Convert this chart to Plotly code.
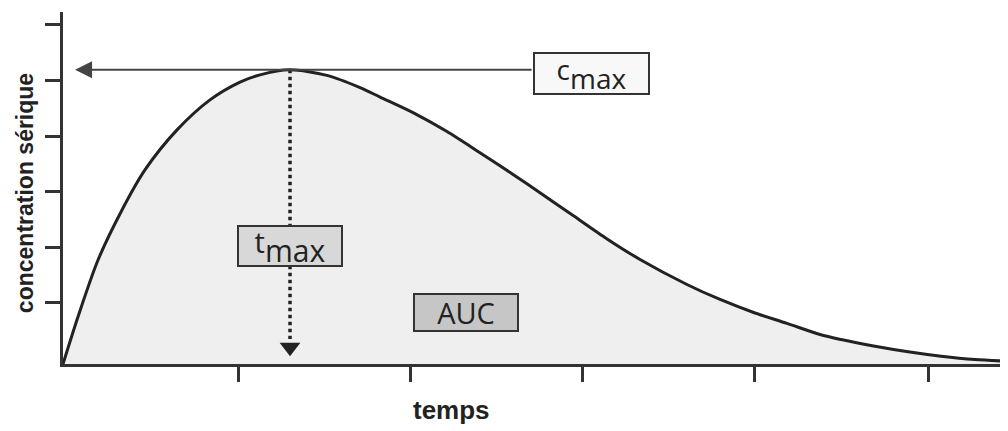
import plotly.graph_objects as go

# ---- data ----
time = [0, 0.087, 0.203, 0.342, 0.475, 0.661, 0.852, 1.026, 1.142, 1.316,
        1.530, 1.722, 1.838, 2.029, 2.226, 2.417, 2.609, 2.765, 2.957, 3.154,
        3.345, 3.617, 3.809, 4.0, 4.197, 4.388, 4.51, 4.707, 4.899, 5.09,
        5.287, 5.478]
conc = [0, 0.85, 1.87, 2.77, 3.49, 4.21, 4.75, 5.07, 5.20, 5.29,
        5.19, 4.97, 4.80, 4.52, 4.18, 3.80, 3.41, 3.08, 2.67, 2.25,
        1.88, 1.43, 1.16, 0.93, 0.73, 0.53, 0.44, 0.32, 0.22, 0.14,
        0.08, 0.05]
x_ticks = [1.015, 2.015, 3.01, 4.01, 5.015]
y_ticks = [1.1, 2.1, 3.1, 4.1, 5.1, 6.1]
x_title = "temps"
y_title = "concentration sérique"
lbl_cmax = ("c", "max")
lbl_tmax = ("t", "max")
lbl_auc = "AUC"

# derived peak
i_max = conc.index(max(conc))
t_max = time[i_max]
c_max = conc[i_max]

AX = "#333333"
INK = "#222222"
LABEL_FONT = "Open Sans"

fig = go.Figure()

# area under curve + curve
fig.add_trace(go.Scatter(
    x=time, y=conc, mode="lines",
    line=dict(color=INK, width=3, shape="spline", smoothing=0.8),
    fill="tozeroy", fillcolor="#efefef", hoverinfo="skip", showlegend=False,
))

# dotted tmax drop line with arrow head
fig.add_trace(go.Scatter(
    x=[t_max, t_max], y=[c_max, 0.45], mode="lines",
    line=dict(color=INK, width=3.5, dash="dot"), hoverinfo="skip", showlegend=False,
))
fig.add_trace(go.Scatter(
    x=[t_max], y=[0.3], mode="markers",
    marker=dict(symbol="triangle-down", size=18, color=INK),
    hoverinfo="skip", showlegend=False,
))


def sub_label(pair, main_px=28, sub_px=29):
    # subscript drawn nearly as large as the main letter, as in the reference
    base = round(sub_px / 0.7)
    return ("<span style='font-size:%dpx'>%s</span><sub>%s</sub>" % (main_px, pair[0], pair[1]), base)


cm_txt, cm_size = sub_label(lbl_cmax, 28, 28)
tm_txt, tm_size = sub_label(lbl_tmax, 29, 30)

annotations = [
    # Cmax arrow (horizontal line pointing to the y axis)
    dict(x=0.07, y=c_max, ax=2.725, ay=c_max, xref="x", yref="y", axref="x", ayref="y",
         text="", showarrow=True, arrowhead=2, arrowsize=1.7, arrowwidth=2, arrowcolor="#444444",
         standoff=0, startstandoff=0),
    # boxes
    dict(x=3.064, y=5.225, xref="x", yref="y", text=cm_txt, showarrow=False,
         font=dict(family=LABEL_FONT, size=cm_size, color=INK), bgcolor="#f8f8f8",
         bordercolor=AX, borderwidth=2, borderpad=0, width=113, height=39,
         xanchor="center", yanchor="middle"),
    dict(x=t_max, y=2.122, xref="x", yref="y", text=tm_txt, showarrow=False,
         font=dict(family=LABEL_FONT, size=tm_size, color=INK), bgcolor="#d8d8d8",
         bordercolor=AX, borderwidth=2, borderpad=0, width=102, height=38,
         xanchor="center", yanchor="middle"),
    dict(x=2.336, y=0.926, xref="x", yref="y", text=lbl_auc, showarrow=False,
         font=dict(family=LABEL_FONT, size=29, color=INK), bgcolor="#c6c6c6",
         bordercolor=AX, borderwidth=2, borderpad=0, width=102, height=35,
         xanchor="center", yanchor="middle"),
    # axis titles
    dict(x=-0.040, y=0.486, xref="paper", yref="paper", text="<b>%s</b>" % y_title,
         textangle=-90, showarrow=False, xanchor="center", yanchor="middle",
         font=dict(family="Liberation Sans", size=23, color=INK)),
    dict(x=0.4116, y=-0.131, xref="paper", yref="paper", text="<b>%s</b>" % x_title,
         showarrow=False, xanchor="center", yanchor="middle",
         font=dict(family="Liberation Sans", size=26, color=INK)),
]

# page body has an 8px default margin: figure is sized/offset to compensate
fig.update_layout(
    width=1000, height=423,
    margin=dict(l=55, r=0, t=4, b=67),
    paper_bgcolor="white", plot_bgcolor="white",
    annotations=annotations,
    xaxis=dict(range=[0, 5.478], tickmode="array", tickvals=x_ticks, showticklabels=False,
               ticks="outside", ticklen=15, tickwidth=2.5, tickcolor=AX,
               showline=True, linecolor=AX, linewidth=2.5, showgrid=False, zeroline=False,
               fixedrange=True),
    yaxis=dict(range=[0, 6.33], tickmode="array", tickvals=y_ticks, showticklabels=False,
               ticks="outside", ticklen=15, tickwidth=2.5, tickcolor=AX,
               showline=True, linecolor=AX, linewidth=2.5, showgrid=False, zeroline=False,
               fixedrange=True),
)

fig.write_html("out.html")
